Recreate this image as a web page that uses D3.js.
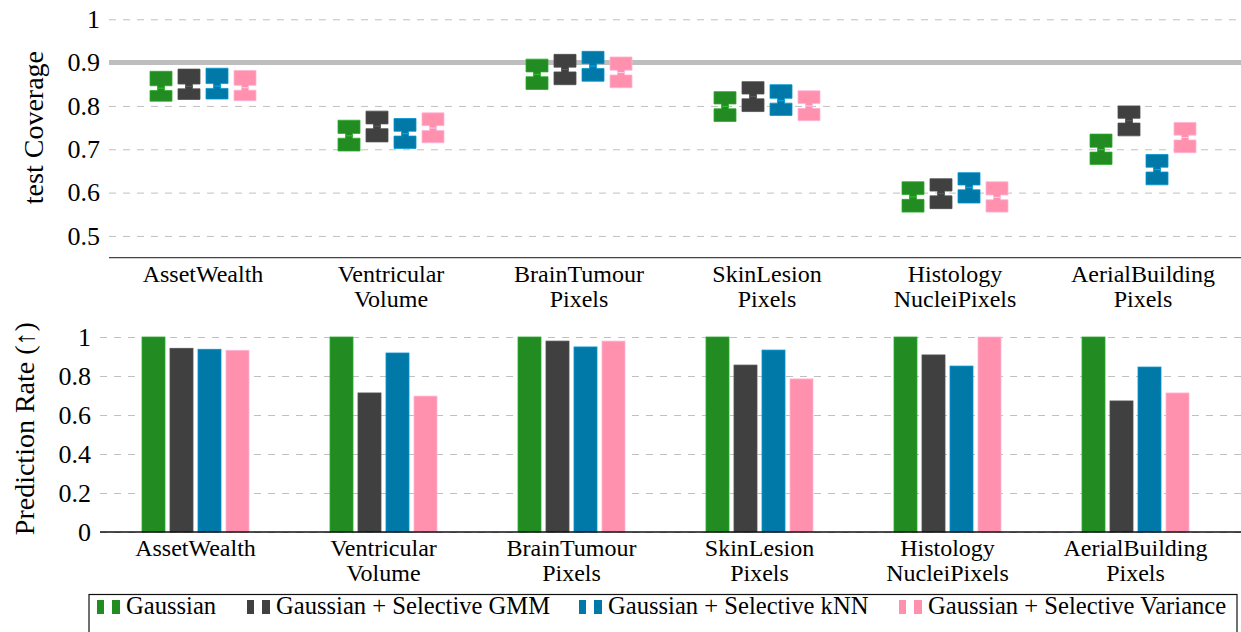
<!DOCTYPE html>
<html>
<head>
<meta charset="utf-8">
<script src="https://cdn.jsdelivr.net/npm/d3@7"></script>
<style>
  body { margin: 0; background: #fff; }
  svg { display: block; font-family: "Liberation Serif", "Times New Roman", serif; }
</style>
</head>
<body>
<div id="chart"></div>
<script>
// categories and methods
const categories = ["AssetWealth", "Ventricular\nVolume", "BrainTumour\nPixels",
  "SkinLesion\nPixels", "Histology\nNucleiPixels", "AerialBuilding\nPixels"];
const methods = ["Gaussian", "Gaussian + Selective GMM", "Gaussian + Selective kNN", "Gaussian + Selective Variance"];
const colors = ["#228b22", "#404040", "#0079a8", "#ff91ae"];

// test coverage boxes: [low, median, high] per category
const coverageGaussian = [[0.811, 0.841, 0.880], [0.696, 0.731, 0.767], [0.838, 0.873, 0.908],
  [0.764, 0.799, 0.833], [0.555, 0.590, 0.625], [0.665, 0.699, 0.735]];
const coverageGMM = [[0.815, 0.845, 0.885], [0.717, 0.753, 0.788], [0.849, 0.884, 0.919],
  [0.787, 0.822, 0.856], [0.563, 0.598, 0.632], [0.731, 0.766, 0.800]];
const coverageKNN = [[0.816, 0.846, 0.887], [0.702, 0.736, 0.771], [0.857, 0.892, 0.926],
  [0.778, 0.812, 0.849], [0.576, 0.612, 0.646], [0.618, 0.653, 0.688]];
const coverageVariance = [[0.812, 0.842, 0.882], [0.715, 0.749, 0.784], [0.842, 0.877, 0.913],
  [0.766, 0.800, 0.835], [0.555, 0.589, 0.625], [0.692, 0.727, 0.762]];

// prediction rate bars
const rateGaussian = [1, 1, 1, 1, 1, 1];
const rateGMM = [0.942, 0.713, 0.979, 0.856, 0.908, 0.672];
const rateKNN = [0.937, 0.918, 0.949, 0.933, 0.851, 0.846];
const rateVariance = [0.932, 0.697, 0.979, 0.785, 1.0, 0.713];

const coverageTicks = [0.5, 0.6, 0.7, 0.8, 0.9, 1];
const rateTicks = [0, 0.2, 0.4, 0.6, 0.8, 1];
const targetCoverage = 0.9;

const coverage = [coverageGaussian, coverageGMM, coverageKNN, coverageVariance];
const rates = [rateGaussian, rateGMM, rateKNN, rateVariance];

const W = 1241, H = 632;
const svg = d3.select("#chart").append("svg")
  .attr("width", W)
  .attr("height", H);

const fmt = d => String(+d.toFixed(1));
const gridColor = "#c0c0c0";
const ink = "#000";

// offsets of the four series inside a group
const xs = d3.scalePoint().domain(d3.range(methods.length)).range([-42, 42]);

function styleAxis(g, size) {
  g.select(".domain").remove();
  g.selectAll(".tick line")
    .attr("stroke", gridColor)
    .attr("stroke-dasharray", "7,7");
  g.selectAll(".tick text")
    .attr("font-family", "Liberation Serif, serif")
    .attr("font-size", size)
    .attr("fill", ink);
}

function categoryLabels(x, y0) {
  const lab = svg.append("g");
  categories.forEach((c, i) => {
    const t = lab.append("text")
      .attr("text-anchor", "middle")
      .attr("font-size", 24)
      .attr("fill", ink);
    c.split("\n").forEach((line, j) => {
      t.append("tspan")
        .attr("x", x(i))
        .attr("y", y0 + j * 25)
        .text(line);
    });
  });
}

// ---------- top panel: test coverage ----------
const topPanel = { left: 109, right: 1237, axisRight: W };
const x1 = d3.scaleBand().domain(d3.range(categories.length)).range([topPanel.left, topPanel.right]);
const cx1 = i => x1(i) + x1.bandwidth() / 2;
const y1 = d3.scaleLinear().domain([0.45, 1.05]).range([257.6, -2.4]);

svg.append("g")
  .attr("transform", `translate(${topPanel.left},0)`)
  .call(d3.axisLeft(y1).tickValues(coverageTicks).tickFormat(fmt)
    .tickSize(-(topPanel.axisRight - topPanel.left)).tickPadding(9))
  .call(g => styleAxis(g, 26));

// target line
svg.append("line")
  .attr("x1", topPanel.left).attr("x2", topPanel.axisRight)
  .attr("y1", y1(targetCoverage)).attr("y2", y1(targetCoverage))
  .attr("stroke", "#bebebe")
  .attr("stroke-width", 5);

svg.append("line")
  .attr("x1", topPanel.left).attr("x2", topPanel.axisRight)
  .attr("y1", y1.range()[0]).attr("y2", y1.range()[0])
  .attr("stroke", "#444")
  .attr("stroke-width", 1.3);

const boxW = 22, neckW = 7, notch = 2.4;
coverage.forEach((series, m) => {
  svg.append("g").selectAll("path")
    .data(series)
    .enter().append("path")
    .attr("d", (d, i) => {
      const cx = cx1(i) + xs(m);
      const a = cx - boxW / 2, b = cx + boxW / 2;
      const na = cx - neckW / 2, nb = cx + neckW / 2;
      const yl = y1(d[0]), ym = y1(d[1]), yh = y1(d[2]);
      return `M${a},${yh}H${b}V${ym - notch}H${nb}V${ym + notch}H${b}V${yl}` +
        `H${a}V${ym + notch}H${na}V${ym - notch}H${a}Z`;
    })
    .attr("fill", colors[m])
    .attr("stroke", d3.color(colors[m]).brighter(0.6))
    .attr("stroke-width", 0.8);
  svg.append("g").selectAll("line")
    .data(series)
    .enter().append("line")
    .attr("x1", (d, i) => cx1(i) + xs(m) - neckW / 2)
    .attr("x2", (d, i) => cx1(i) + xs(m) + neckW / 2)
    .attr("y1", d => y1(d[1])).attr("y2", d => y1(d[1]))
    .attr("stroke", d3.color(colors[m]).brighter(1.2))
    .attr("stroke-width", 0.8);
});

categoryLabels(cx1, 282);

svg.append("text")
  .attr("transform", `translate(43,${(y1.range()[0] + y1.range()[1]) / 2}) rotate(-90)`)
  .attr("text-anchor", "middle")
  .attr("font-size", 28)
  .attr("fill", ink)
  .text("test Coverage");

// ---------- bottom panel: prediction rate ----------
const botPanel = { left: 101.5, right: 1229.5, axisLeft: 100, axisRight: W };
const x2 = d3.scaleBand().domain(d3.range(categories.length)).range([botPanel.left, botPanel.right]);
const cx2 = i => x2(i) + x2.bandwidth() / 2;
const y2 = d3.scaleLinear().domain([0, 1.06]).range([532, 532 - 1.06 * 195]);

svg.append("g")
  .attr("transform", `translate(${botPanel.axisLeft},0)`)
  .call(d3.axisLeft(y2).tickValues(rateTicks).tickFormat(fmt)
    .tickSize(-(botPanel.axisRight - botPanel.axisLeft)).tickPadding(9))
  .call(g => styleAxis(g, 26));

const barW = 23;
rates.forEach((series, m) => {
  svg.append("g").selectAll("rect")
    .data(series)
    .enter().append("rect")
    .attr("x", (d, i) => cx2(i) + xs(m) - barW / 2)
    .attr("y", d => y2(d))
    .attr("width", barW)
    .attr("height", d => y2(0) - y2(d))
    .attr("fill", colors[m])
    .attr("stroke", d3.color(colors[m]).brighter(0.6))
    .attr("stroke-width", 0.8);
});

svg.append("line")
  .attr("x1", botPanel.axisLeft).attr("x2", botPanel.axisRight)
  .attr("y1", y2(0)).attr("y2", y2(0))
  .attr("stroke", "#111")
  .attr("stroke-width", 1.3);

categoryLabels(cx2, 556);

svg.append("text")
  .attr("transform", `translate(34,${(y2.range()[0] + y2.range()[1]) / 2}) rotate(-90)`)
  .attr("text-anchor", "middle")
  .attr("font-size", 28)
  .attr("fill", ink)
  .text("Prediction Rate (\u2191)");

// ---------- legend ----------
const legendX = [126, 276, 608, 928];
svg.append("rect")
  .attr("x", 89).attr("y", 594.5)
  .attr("width", 1237 - 89).attr("height", 60)
  .attr("fill", "none")
  .attr("stroke", "#111")
  .attr("stroke-width", 1.2);

const legend = svg.append("g").selectAll("g")
  .data(methods)
  .enter().append("g")
  .attr("transform", (d, i) => `translate(${legendX[i]},614)`);

legend.append("rect")
  .attr("x", -29).attr("y", -14).attr("width", 7).attr("height", 14)
  .attr("fill", (d, i) => colors[i]);
legend.append("rect")
  .attr("x", -14).attr("y", -14).attr("width", 8).attr("height", 14)
  .attr("fill", (d, i) => colors[i]);
legend.append("text")
  .attr("font-size", 24.6)
  .attr("fill", ink)
  .text(d => d);
</script>
</body>
</html>
